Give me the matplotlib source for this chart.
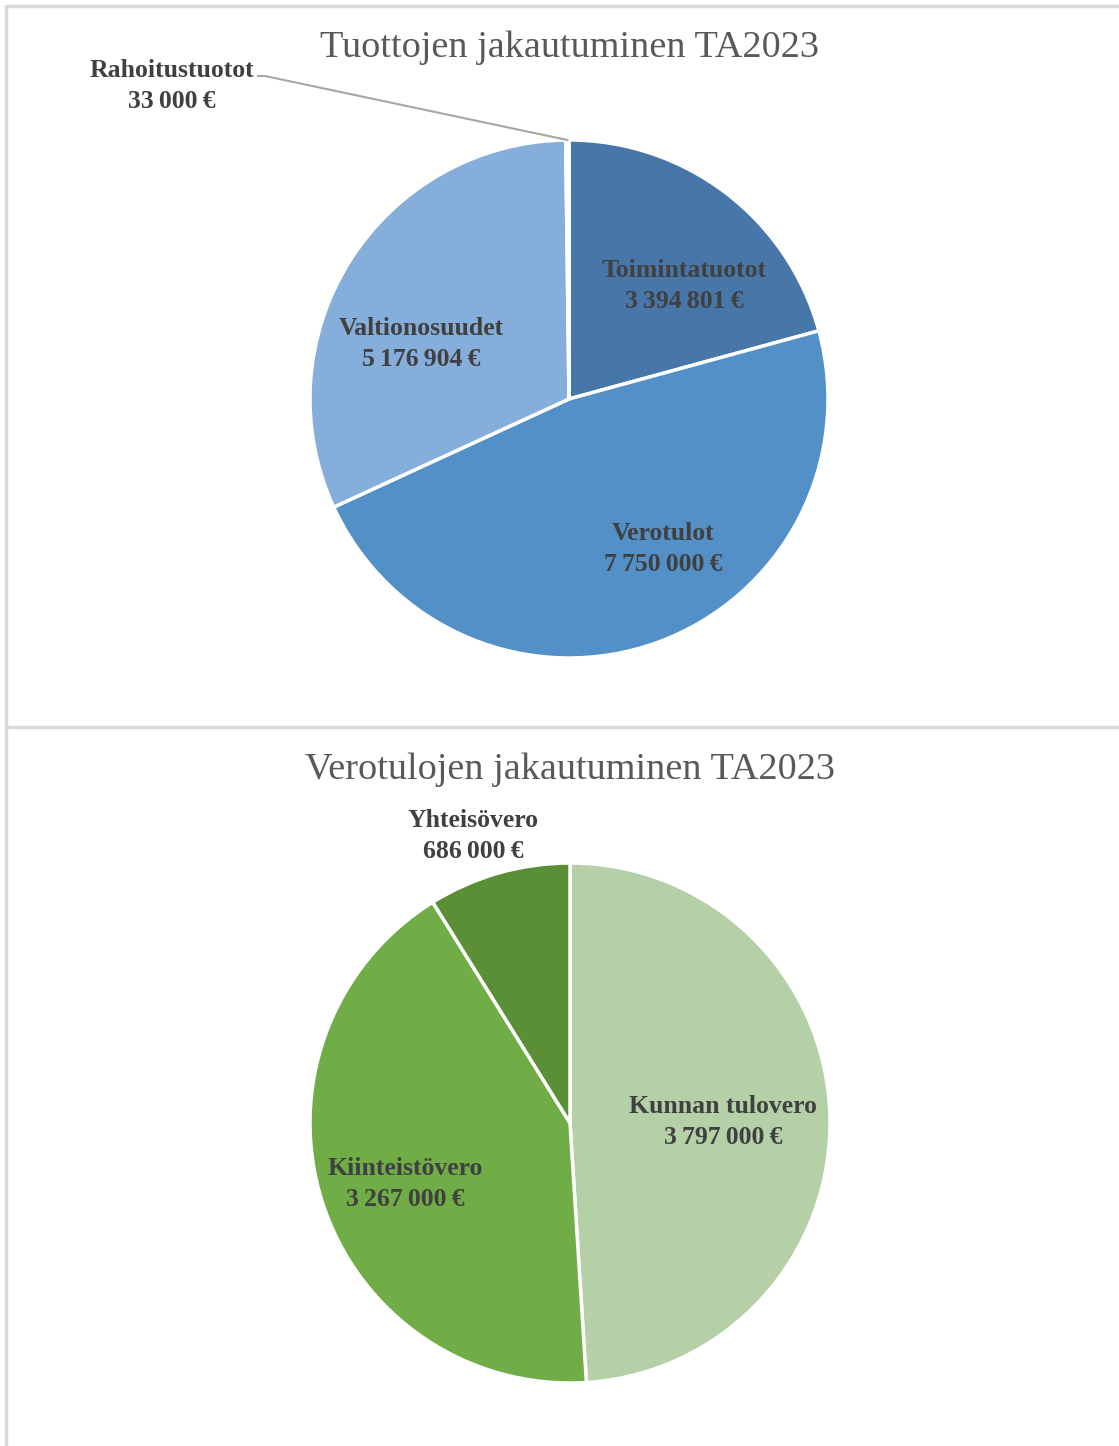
import matplotlib.pyplot as plt
import numpy as np

# data
tuotot_labels = ["Toimintatuotot", "Verotulot", "Valtionosuudet", "Rahoitustuotot"]
tuotot_values = [3394801, 7750000, 5176904, 33000]
tuotot_colors = ["#4677A8", "#5490C8", "#86AEDB", "#2E5C8A"]

vero_labels = ["Kunnan tulovero", "Kiinteistövero", "Yhteisövero"]
vero_values = [3797000, 3267000, 686000]
vero_colors = ["#B5CFA7", "#70AD47", "#5B8F37"]

W, H = 1119, 1446
plt.rcParams["font.family"] = ["Liberation Serif", "DejaVu Serif"]


def fy(y):
    # pixel row -> axes y
    return H - y


def euro(v):
    # narrow thousands separators like the original
    return f"{v:,}".replace(",", "\u2009") + "\u2009€"


fig = plt.figure(figsize=(W / 100, H / 100), dpi=100)
ax = fig.add_axes([0, 0, 1, 1])

# frame lines
ax.plot([5, W], [fy(6), fy(6)], color="#D9D9D9", lw=2.5, solid_capstyle="butt")
ax.plot([6, 6], [fy(5), 0], color="#D9D9D9", lw=2.5, solid_capstyle="butt")
ax.plot([6, W], [fy(727), fy(727)], color="#D9D9D9", lw=2.5, solid_capstyle="butt")

wp = dict(edgecolor="white", linewidth=2.5)
lab_kw = dict(ha="center", va="center", fontsize=18.5, fontweight="bold",
              color="#404040", linespacing=1.42)

# top pie
c1, r1 = (569, fy(399)), 259
w1, _ = ax.pie(tuotot_values, colors=tuotot_colors, startangle=90, counterclock=False,
               center=c1, radius=r1, wedgeprops=wp)
ax.text(569, fy(48), "Tuottojen jakautuminen TA2023", ha="center", va="center",
        fontsize=27.5, color="#595959")

label_pos1 = {"Toimintatuotot": (684, 286), "Verotulot": (663, 549),
              "Valtionosuudet": (421, 344), "Rahoitustuotot": (172, 86)}
for name, val in zip(tuotot_labels, tuotot_values):
    x, y = label_pos1[name]
    ax.text(x, fy(y), name + "\n" + euro(val), **lab_kw)

# leader line for the small slice
wr = w1[3]
mid = np.deg2rad((wr.theta1 + wr.theta2) / 2)
ex, ey = c1[0] + r1 * np.cos(mid), c1[1] + r1 * np.sin(mid)
ax.plot([258, 265, ex], [fy(76), fy(76), ey], color="#A6A6A6", lw=1.5)

# bottom pie
c2, r2 = (570, fy(1123)), 260
ax.pie(vero_values, colors=vero_colors, startangle=90, counterclock=False,
       center=c2, radius=r2, wedgeprops=wp)
ax.text(570, fy(770), "Verotulojen jakautuminen TA2023", ha="center", va="center",
        fontsize=27.5, color="#595959")

label_pos2 = {"Kunnan tulovero": (723, 1122), "Kiinteistövero": (405, 1184),
              "Yhteisövero": (473, 836)}
for name, val in zip(vero_labels, vero_values):
    x, y = label_pos2[name]
    ax.text(x, fy(y), name + "\n" + euro(val), **lab_kw)

ax.set_xlim(0, W)
ax.set_ylim(0, H)
ax.set_aspect("equal")
ax.axis("off")

fig.savefig("out.png", dpi=100)
